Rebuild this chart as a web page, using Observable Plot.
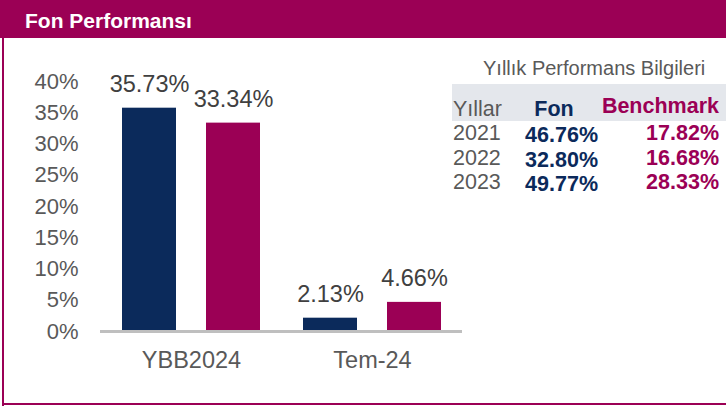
<!DOCTYPE html>
<html>
<head>
<meta charset="utf-8">
<script src="https://cdn.jsdelivr.net/npm/d3@7"></script>
<script src="https://cdn.jsdelivr.net/npm/@observablehq/plot@0.6"></script>
<style>
  html, body { margin: 0; padding: 0; background: #fff; }
  #wrap { position: relative; width: 726px; height: 407px; overflow: hidden; font-family: "Liberation Sans", Arial, sans-serif; }
  #header { position: absolute; left: 0; top: 0; width: 726px; height: 38px; background: #9B0055; }
  #header span { position: absolute; left: 25px; top: 10px; color: #fff; font-weight: bold; font-size: 21px; line-height: 1; font-family: "Liberation Sans", Arial, sans-serif; }
  #leftborder { position: absolute; left: 2px; top: 38px; width: 2px; height: 368px; background: #9B0055; }
  #bottomborder { position: absolute; left: 2px; top: 403px; width: 724px; height: 2px; background: #9B0055; }
  #chart { position: absolute; left: 0; top: 0; }
  .cell { position: absolute; white-space: nowrap; font-size: 21.5px; line-height: 1; }
</style>
</head>
<body>
<div id="wrap">
  <div id="chart"></div>
  <div id="header"><span>Fon Performansı</span></div>
  <div id="leftborder"></div>
  <div id="bottomborder"></div>
  <div id="table"></div>
</div>
<script>
// ---- Data ----
const categories = ["YBB2024", "Tem-24"];
const series = ["Fon", "Benchmark"];
const fonValues = [35.73, 2.13];
const benchmarkValues = [33.34, 4.66];
const yTicks = [0, 5, 10, 15, 20, 25, 30, 35, 40];

const tableTitle = "Yıllık Performans Bilgileri";
const tableHeaders = ["Yıllar", "Fon", "Benchmark"];
const years = ["2021", "2022", "2023"];
const fonAnnual = [46.76, 32.80, 49.77];
const benchmarkAnnual = [17.82, 16.68, 28.33];

const NAVY = "#0B2A5B";
const PURPLE = "#9B0055";
const GREY_TEXT = "#595959";

// ---- Chart ----
const data = [];
categories.forEach((c, i) => {
  data.push({category: c, series: "Fon", value: fonValues[i]});
  data.push({category: c, series: "Benchmark", value: benchmarkValues[i]});
});

const chart = Plot.plot({
  width: 726,
  height: 407,
  marginTop: 81,
  marginBottom: 76,
  marginLeft: 106,
  marginRight: 269,
  style: {fontFamily: "'Liberation Sans', Arial, sans-serif", background: "transparent"},
  fx: {domain: categories, paddingInner: 0.061, paddingOuter: 0, label: null},
  x: {domain: series, paddingInner: 0.36, paddingOuter: 0.186, axis: null},
  y: {domain: [0, 40], label: null},
  color: {domain: series, range: [NAVY, PURPLE]},
  marks: [
    Plot.axisY({ticks: yTicks, tickFormat: d => d + "%", tickSize: 0, tickPadding: 28, fontSize: 22, fill: GREY_TEXT, label: null}),
    Plot.axisFx({anchor: "bottom", tickSize: 0, tickPadding: 20, fontSize: 23.5, fill: GREY_TEXT, label: null}),
    Plot.barY(data, {fx: "category", x: "series", y: "value", fill: "series"}),
    Plot.ruleY([0], {stroke: "#BFBFBF", strokeWidth: 3, insetLeft: -6, insetRight: -5}),
    Plot.text(data, {fx: "category", x: "series", y: "value", text: d => d.value.toFixed(2) + "%", dy: -24, fontSize: 23.5, fill: "#404040"})
  ]
});
document.getElementById("chart").appendChild(chart);

// ---- Table ----
const table = document.getElementById("table");
function cell(text, style) {
  const d = document.createElement("div");
  d.className = "cell";
  d.textContent = text;
  Object.assign(d.style, style);
  table.appendChild(d);
  return d;
}
cell(tableTitle, {left: "483px", top: "58px", fontSize: "20px", color: GREY_TEXT});
const bg = document.createElement("div");
Object.assign(bg.style, {position: "absolute", left: "452px", top: "84px", width: "274px", height: "37px", background: "#E4E7EC"});
table.appendChild(bg);
cell(tableHeaders[0], {left: "453px", top: "99px", color: GREY_TEXT});
cell(tableHeaders[1], {left: "514px", width: "80px", textAlign: "center", top: "99px", color: NAVY, fontWeight: "bold"});
cell(tableHeaders[2], {right: "7px", top: "96px", color: PURPLE, fontWeight: "bold"});
years.forEach((y, i) => {
  const top = 123 + i * 24.5;
  cell(y, {left: "453px", top: top + "px", color: GREY_TEXT});
  cell(fonAnnual[i].toFixed(2) + "%", {right: (726 - 598) + "px", top: (top + 2) + "px", color: NAVY, fontWeight: "bold"});
  cell(benchmarkAnnual[i].toFixed(2) + "%", {right: "7px", top: top + "px", color: PURPLE, fontWeight: "bold"});
});
</script>
</body>
</html>
